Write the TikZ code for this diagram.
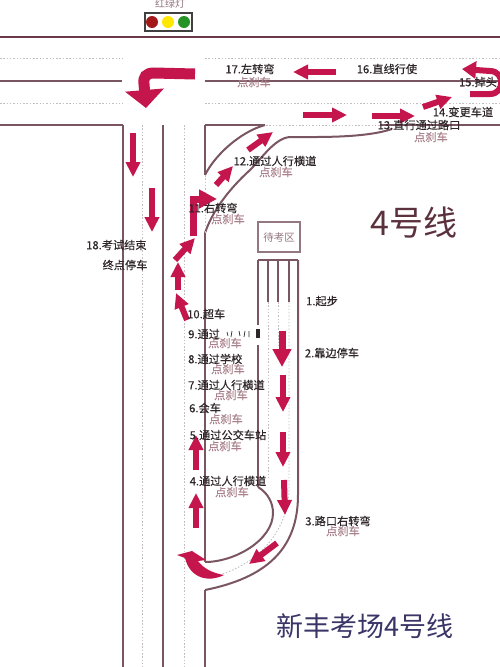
\documentclass[tikz,border=0pt]{standalone}
\usepackage{fontspec}
\setmainfont{Noto Sans CJK SC}
\newfontfamily\labfont[FakeBold=0.25]{Noto Sans CJK SC}
\usetikzlibrary{arrows.meta}
\definecolor{road}{HTML}{7A5562}
\definecolor{roadd}{HTML}{6A3A48}
\definecolor{dotc}{HTML}{C4BEC0}
\definecolor{arr}{HTML}{C4154C}
\definecolor{txt}{HTML}{2E2628}
\definecolor{pale}{HTML}{A87F8A}
\definecolor{navy}{HTML}{3A3566}
\tikzset{
  roadline/.style={draw=road,line width=2pt},
  darkline/.style={draw=roadd,line width=2pt},
  dotline/.style={draw=dotc,line width=0.9pt,dash pattern=on 1.5pt off 1.8pt},
  arrowa/.style={draw=arr,line width=6pt,-{Triangle[width=14pt,length=15pt]}},
  arrowb/.style={draw=arr,line width=7pt,-{Triangle[width=18pt,length=18pt]}},
  arrowbig/.style={draw=arr,line width=11pt,-{Triangle[width=38pt,length=18pt]}},
  lab/.style={font=\labfont\fontsize{11.2}{12}\selectfont,text=txt,inner sep=0pt},
  brake/.style={font=\labfont\fontsize{11.2}{12}\selectfont,text=pale,inner sep=0pt},
}
\begin{document}
\begin{tikzpicture}[x=1pt,y=-1pt]
\useasboundingbox (0,0) rectangle (500,667);
\clip (0,0) rectangle (500,667);
\fill[white] (0,0) rectangle (500,667);
% horizontal roads
\draw[darkline] (0,37) -- (500,37);
\draw[roadline] (0,81) -- (122,81);
\draw[roadline] (205,81) -- (500,81);
\draw[roadline] (0,125) -- (123,125);
\draw[roadline] (205,125) -- (265,125);
\draw[roadline] (380,125) -- (500,125);
\draw[dotline] (0,58) -- (123,58);
\draw[dotline] (205,58) -- (500,58);
\draw[dotline] (0,103) -- (123,103);
\draw[dotline] (205,103) -- (500,103);
\draw[dotline] (266,125) -- (380,125);
% vertical roads
\draw[roadline] (123,125) -- (123,667);
\draw[roadline] (163,125) -- (163,667);
\draw[roadline] (205,125) -- (205,175);
\draw[dotline] (142,125) -- (142,667);
\draw[dotline] (184,125) -- (184,667);
% right turn lane
\draw[roadline] (205,175) .. controls (215,155) and (240,132) .. (265,125);
\draw[roadline] (205,233) .. controls (212,212) and (228,190) .. (250,170)
  .. controls (262,158) and (275,138) .. (290,137)
  .. controls (320,137) and (365,138) .. (392,129);
\draw[dotline] (205,175) -- (205,233);
% main lane
\draw[roadline] (205,233) -- (205,562);
\draw[roadline] (205,562) .. controls (235,562) and (273,540) .. (273,513)
  .. controls (273,503) and (268,493) .. (258,487);
\draw[roadline] (258,260) -- (258,487);
\draw[roadline] (298,260) -- (298,495) .. controls (298,550) and (265,578) .. (205,590);
\draw[roadline] (205,590) -- (205,667);
% start bays
\draw[roadline] (258,260) -- (298,260);
\draw[roadline] (268,260) -- (268,302);
\draw[roadline] (278,260) -- (278,302);
\draw[roadline] (289,260) -- (289,302);
\draw[dotline] (268,302) -- (268,480);
\draw[dotline] (278,302) -- (278,345);
\draw[dotline] (289,302) -- (289,490) .. controls (288,525) and (265,560) .. (222,574);
% waiting box
\draw[road!80,line width=1.2pt] (258,222) rectangle (300,252);
\node[font=\fontsize{10.5}{11}\selectfont,text=road!80,inner sep=0pt] (wait) at (279,238) {待考区};
% traffic light
\node[font=\fontsize{10}{11}\selectfont,text=road!80,inner sep=0pt] (lightlabel) at (170,4) {红绿灯};
\draw[draw=black!75,fill=white,line width=1.2pt] (145,13) rectangle (192,31);
\fill[red!60!black!90] (152,22) circle (6);
\fill[yellow!90!orange] (168,22) circle (6);
\fill[green!50!black!85] (184,22) circle (6);
% arrows
\draw[arrowbig] (195,74) -- (154,73) .. controls (146,73) and (143,77) .. (144,84) -- (146,108);
\draw[arrowa] (336,72) -- (293,72);
\draw[draw=arr,line width=6pt,-{Triangle[width=17pt,length=14pt]}] (470,94) -- (490,94) .. controls (505,94) and (505,71) .. (490,71) -- (462,69);
\draw[arrowa] (423,107) -- (452,97);
\draw[arrowa] (303,115) -- (347,115);
\draw[arrowa] (372,116) -- (415,116);
\draw[arrowa] (248,150) -- (273,132);
\draw[arrowa] (216,185) -- (233,166);
\draw[arrowb] (193,236) -- (193,199) -- (217,199);
\draw[arrowa] (187,320) -- (176,293);
\draw[arrowa] (178,290) -- (178,262);
\draw[arrowa] (175,260) -- (195,238);
\draw[arrowa] (133,133) -- (133,177);
\draw[arrowa] (152,188) -- (152,232);
\draw[arrowb] (282,331) -- (282,367);
\draw[arrowa] (283,375) -- (283,412);
\draw[arrowa] (283,432) -- (283,467);
\draw[arrowa] (284,480) -- (285,515);
\draw[arrowa] (196,470) -- (196,435);
\draw[arrowa] (196,528) -- (196,493);
\draw[arrowa] (277,543) -- (249,564);
\fill[arr] (224,575) .. controls (208,583) and (190,578) .. (185,558)
  -- (177,555) -- (192,551) -- (206,560) -- (198,561)
  .. controls (203,568) and (212,573) .. (224,575) -- cycle;
% white patch with damaged text
\fill[white] (228,325) rectangle (263,345);
\draw[txt,line width=0.7pt] (227,332) -- (228,336) (232,331) -- (231,337) (239,331) -- (240,336) (245,331) -- (244,337) (249,331) -- (249,337);
\fill[txt] (256,329) rectangle (260,338);
% labels
\node[lab] (l17) at (250,69) {17.左转弯};
\node[brake] (b17) at (254,82) {点刹车};
\node[lab] (l16) at (387,69) {16.直线行使};
\node[lab] (l15) at (478,82) {15.掉头};
\node[lab] (l14) at (463,112) {14.变更车道};
\node[lab] (l13) at (419,125) {13.直行通过路口};
\node[brake] (b13) at (431,137) {点刹车};
\node[lab] (l12) at (275,161) {12.通过人行横道};
\node[brake] (b12) at (276,172) {点刹车};
\node[lab] (l11) at (213,208) {11.右转弯};
\node[brake] (b11) at (228,219) {点刹车};
\node[font=\fontsize{34}{36}\selectfont,text=roadd!85!black,inner sep=0pt] (line4) at (414,223) {4号线};
\node[lab,anchor=west] (l18) at (86,245) {18.考试结束};
\node[lab] (l18b) at (125,265) {终点停车};
\node[lab] (l1) at (322,301) {1.起步};
\node[lab] (l2) at (332,353) {2.靠边停车};
\node[lab,anchor=west] (l10) at (187,314) {10.超车};
\node[lab,anchor=west] (l9) at (188,334) {9.通过};
\node[brake] (b9) at (225,343) {点刹车};
\node[lab,anchor=west] (l8) at (188,359) {8.通过学校};
\node[brake] (b8) at (228,369) {点刹车};
\node[lab,anchor=west] (l7) at (188,385) {7.通过人行横道};
\node[brake] (b7) at (231,395) {点刹车};
\node[lab,anchor=west] (l6) at (189,408) {6.会车};
\node[brake] (b6) at (226,419) {点刹车};
\node[lab] (l5) at (228,435) {5.通过公交车站};
\node[brake] (b5) at (225,446) {点刹车};
\node[lab] (l4) at (228,481) {4.通过人行横道};
\node[brake] (b4) at (232,492) {点刹车};
\node[lab] (l3) at (338,521) {3.路口右转弯};
\node[brake] (b3) at (343,531) {点刹车};
\node[font=\fontsize{27}{29}\selectfont,text=navy,inner sep=0pt] (title) at (365,626) {新丰考场4号线};
\end{tikzpicture}
\end{document}
